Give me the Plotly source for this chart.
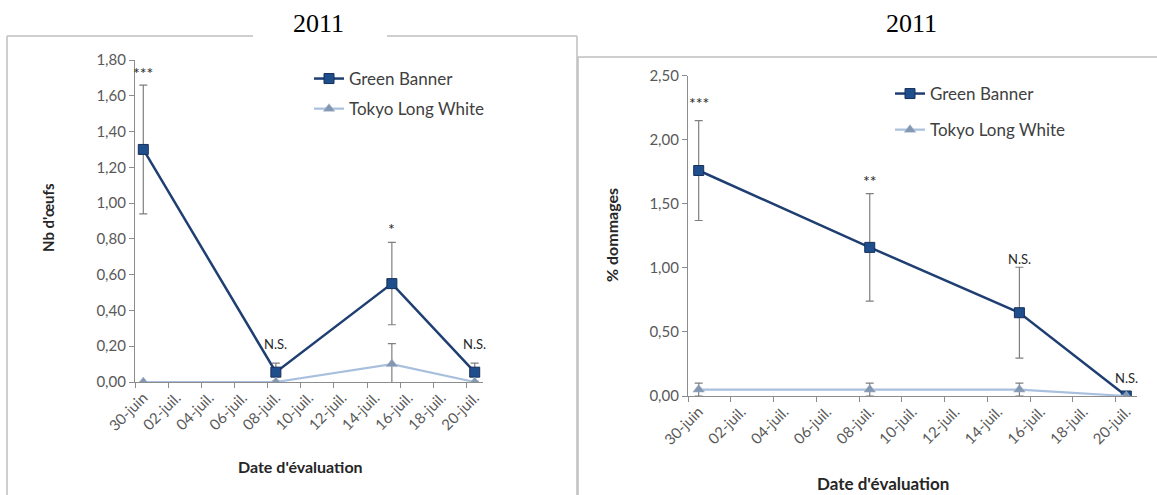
import plotly.graph_objects as go

W, H = 1157, 495

# ---------------- data ----------------
dates = ["2011-06-30", "2011-07-08", "2011-07-15", "2011-07-20"]
series_names = ["Green Banner", "Tokyo Long White"]

eggs_gb = [1.30, 0.055, 0.55, 0.055]
eggs_gb_err = [0.36, 0.05, 0.23, 0.05]
eggs_tlw = [0.0, 0.0, 0.10, 0.0]
eggs_tlw_err = [0.0, 0.0, 0.115, 0.0]
eggs_sig = ["***", "N.S.", "*", "N.S."]
eggs_sig_y = [1.73, 0.21, 0.86, 0.21]

dmg_gb = [1.76, 1.16, 0.65, 0.0]
dmg_gb_err = [0.39, 0.42, 0.355, 0.0]
dmg_tlw = [0.05, 0.05, 0.05, 0.0]
dmg_tlw_err = [0.05, 0.05, 0.05, 0.0]
dmg_sig = ["***", "**", "N.S.", "N.S."]
dmg_sig_y = [2.29, 1.68, 1.07, 0.14]

tick_dates = ["2011-06-30", "2011-07-02", "2011-07-04", "2011-07-06", "2011-07-08",
              "2011-07-10", "2011-07-12", "2011-07-14", "2011-07-16", "2011-07-18",
              "2011-07-20"]
tick_labels = ["30-juin", "02-juil.", "04-juil.", "06-juil.", "08-juil.", "10-juil.",
               "12-juil.", "14-juil.", "16-juil.", "18-juil.", "20-juil."]
tick_marks = ["2011-06-29 12:00", "2011-07-01 12:00", "2011-07-03 12:00", "2011-07-05 12:00",
              "2011-07-07 12:00", "2011-07-09 12:00", "2011-07-11 12:00", "2011-07-13 12:00",
              "2011-07-15 12:00", "2011-07-17 12:00", "2011-07-19 12:00"]
x_range = ["2011-06-29 12:00", "2011-07-20 12:00"]

eggs_yticks = [0, 0.2, 0.4, 0.6, 0.8, 1.0, 1.2, 1.4, 1.6, 1.8]
dmg_yticks = [0, 0.5, 1.0, 1.5, 2.0, 2.5]

# ---------------- style ----------------
FONT = "Lato"
GB_LINE = "#1F3F73"
GB_FILL = "#1F4E8C"
TLW_LINE = "#A8C0DD"
TLW_MARK = "#8497B0"
ERR = "#7F7F7F"
AXIS = "#8C8C8C"
TXT = "#595959"


def px(x):
    return x / W


def py(y):
    return 1 - y / H


fig = go.Figure()


def add_panel(xa, ya, legend, gb, gbe, tl, tle):
    fig.add_trace(go.Scatter(
        x=dates, y=gb, name=series_names[0], mode="lines+markers",
        xaxis=xa, yaxis=ya, legend=legend, legendgroup=legend + "gb",
        line=dict(color=GB_LINE, width=2.5),
        marker=dict(symbol="square", size=10, color=GB_FILL, line=dict(color="#17305A", width=1)),
        error_y=dict(type="data", array=gbe, visible=True, color=ERR, thickness=1.2, width=4),
    ))
    fig.add_trace(go.Scatter(
        x=dates, y=tl, name=series_names[1], mode="lines+markers",
        xaxis=xa, yaxis=ya, legend=legend, legendgroup=legend + "tl",
        line=dict(color=TLW_LINE, width=2.2),
        marker=dict(symbol="triangle-up", size=10, color=TLW_MARK, line=dict(color="#9FB3CC", width=0.5)),
        error_y=dict(type="data", array=tle, visible=True, color=ERR, thickness=1.2, width=4),
    ))


add_panel("x", "y", "legend", eggs_gb, eggs_gb_err, eggs_tlw, eggs_tlw_err)
add_panel("x2", "y2", "legend2", dmg_gb, dmg_gb_err, dmg_tlw, dmg_tlw_err)


def xaxis_cfg(d0, d1):
    return dict(
        domain=[px(d0), px(d1)], type="date", range=x_range, automargin=False,
        tickmode="array", tickvals=tick_dates, ticktext=tick_labels, tickangle=-45,
        ticks="", showgrid=False, zeroline=False,
        showline=True, linecolor=AXIS, linewidth=1.2,
        tickfont=dict(family=FONT, size=15, color=TXT),
        minor=dict(tickmode="array", tickvals=tick_marks, ticks="outside", ticklen=5,
                   tickcolor=AXIS, tickwidth=1, showgrid=False),
    )


def yaxis_cfg(d0, d1, rng, ticks, fmt_vals):
    return dict(
        domain=[py(d1), py(d0)], range=rng, tickmode="array", tickvals=ticks, automargin=False,
        ticktext=fmt_vals, ticks="outside", ticklen=5, tickcolor=AXIS,
        showgrid=False, zeroline=False, showline=True, linecolor=AXIS, linewidth=1.2,
        tickfont=dict(family=FONT, size=15, color=TXT),
    )


def fr(v):
    return f"{v:.2f}".replace(".", ",")


fig.update_layout(
    template="none",
    width=W, height=H, autosize=False,
    margin=dict(l=0, r=0, t=0, b=0, pad=0, autoexpand=False),
    paper_bgcolor="white", plot_bgcolor="white",
    xaxis=xaxis_cfg(135, 483),
    yaxis=yaxis_cfg(60, 382, [0, 1.8], eggs_yticks, [fr(v) for v in eggs_yticks]),
    xaxis2=dict(xaxis_cfg(688, 1137), anchor="y2"),
    yaxis2=dict(yaxis_cfg(75.7, 396, [0, 2.5], dmg_yticks, [fr(v) for v in dmg_yticks]), anchor="x2"),
    legend=dict(x=px(309), y=py(61), xanchor="left", yanchor="top", bgcolor="rgba(0,0,0,0)",
                font=dict(family=FONT, size=17, color="#404040"), itemwidth=30,
                tracegroupgap=5),
    legend2=dict(x=px(890), y=py(76), xanchor="left", yanchor="top", bgcolor="rgba(0,0,0,0)",
                 font=dict(family=FONT, size=17, color="#404040"), itemwidth=30,
                 tracegroupgap=11),
    showlegend=True,
)

# significance labels
for xs, ys, labs, xr, yr in [(dates, eggs_sig_y, eggs_sig, "x", "y"),
                              (dates, dmg_sig_y, dmg_sig, "x2", "y2")]:
    for xv, yv, t in zip(xs, ys, labs):
        fig.add_annotation(x=xv, y=yv, xref=xr, yref=yr, text=t, showarrow=False,
                           xanchor="center", yanchor="middle",
                           font=dict(family=FONT, size=16 if "*" in t else 13, color="#262626"))


def text_at(x, y, text, size, angle=0, family=FONT, color="#262626"):
    fig.add_annotation(x=px(x), y=py(y), xref="paper", yref="paper", text=text,
                       textangle=angle, showarrow=False, xanchor="center", yanchor="middle",
                       font=dict(family=family, size=size, color=color))


# axis titles
text_at(48, 218, "<b>Nb d'œufs</b>", 15, angle=-90)
text_at(612, 235, "<b>% dommages</b>", 16, angle=-90)
text_at(300, 466, "<b>Date d'évaluation</b>", 16)
text_at(883, 483, "<b>Date d'évaluation</b>", 17)

# panel titles
for cx in (318, 911):
    text_at(cx, 24, "2011", 26, family="Liberation Serif", color="black")

# frames
FR = "#BFBFBF"
frame_lines = [
    (7, 36, 253, 36), (387, 36, 577, 36), (7, 36, 7, 495), (577, 36, 577, 495),
    (578, 57, 1157, 57), (578, 57, 578, 495),
]
for x0, y0, x1, y1 in frame_lines:
    fig.add_shape(type="line", xref="paper", yref="paper", x0=px(x0), y0=py(y0), x1=px(x1), y1=py(y1),
                  line=dict(color=FR, width=1.5))

fig.write_html("out.html", config={"displayModeBar": False},
               post_script="document.body.style.margin='0';")
